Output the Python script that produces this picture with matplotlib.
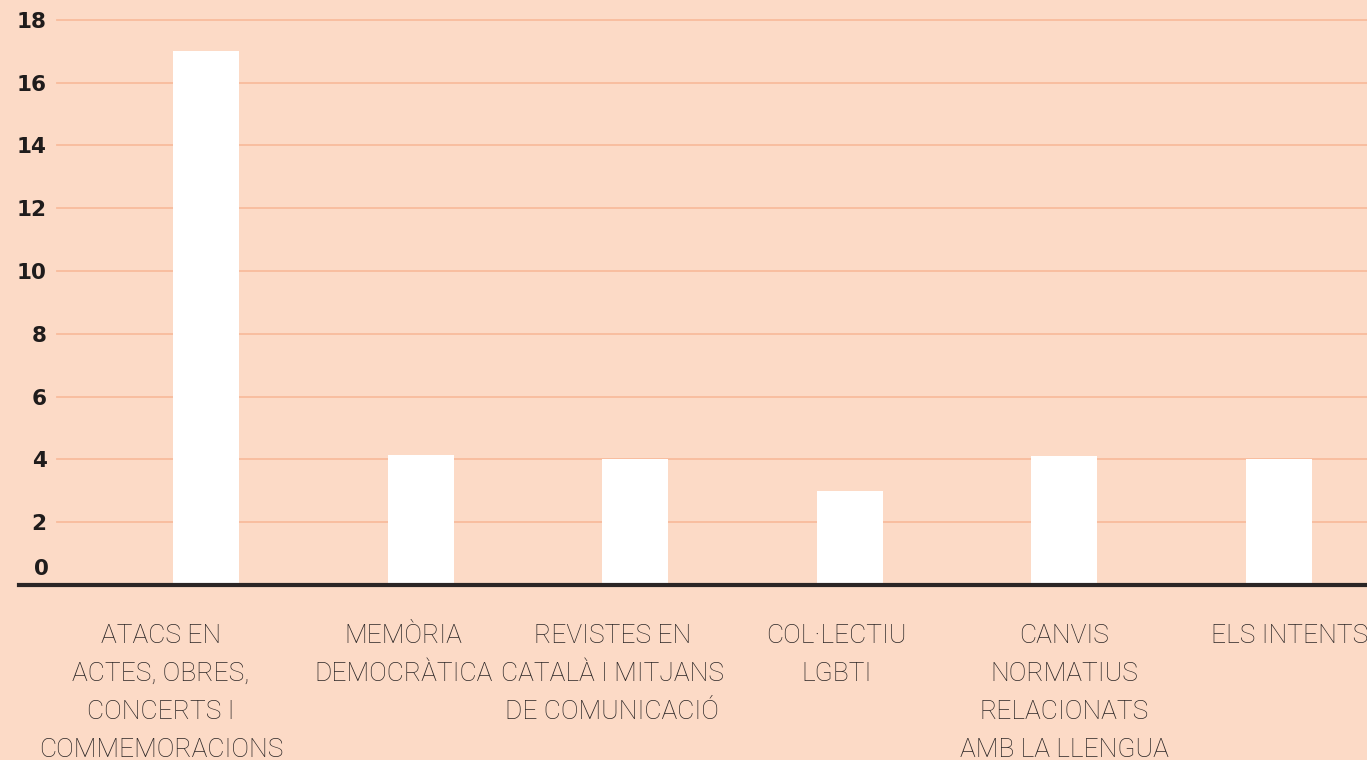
import matplotlib
matplotlib.use("Agg")
import matplotlib.pyplot as plt
from matplotlib.transforms import offset_copy

CATEGORIES = [
    "ATACS EN\nACTES, OBRES,\nCONCERTS I\nCOMMEMORACIONS",
    "MEMÒRIA\nDEMOCRÀTICA",
    "REVISTES EN\nCATALÀ I MITJANS\nDE COMUNICACIÓ",
    "COL·LECTIU\nLGBTI",
    "CANVIS\nNORMATIUS\nRELACIONATS\nAMB LA LLENGUA",
    "ELS INTENTS",
]
VALUES = [17, 4.15, 4, 3, 4.1, 4]
Y_TICKS = [0, 2, 4, 6, 8, 10, 12, 14, 16, 18]

# small horizontal nudges of the category labels, in pixels (layout only)
LABEL_NUDGE = [-45, -17, -23, -13, 0, 11]

BG = "#fcdac6"
GRID = "#f8bc9c"
TEXT = "#2b2626"

W, H, DPI = 1367, 760, 100
fig = plt.figure(figsize=(W / DPI, H / DPI), dpi=DPI, facecolor=BG)

# axes: left at baseline start, bottom at baseline
x0, base = 19, 585
step = 214.6
ax = fig.add_axes([x0 / W, (H - base) / H, 1 - x0 / W, base / H])
ax.set_facecolor(BG)
xs = list(range(len(VALUES)))
first = 187 / step
ax.set_xlim(-first, -first + (W - x0) / step)
ax.set_ylim(0, base / 31.4)

for t in Y_TICKS[1:]:
    ax.axhline(t, xmin=(57 - x0) / (W - x0), xmax=1, color=GRID, lw=1.3, zorder=1)

ax.bar(xs, VALUES, width=66 / step, color="white", zorder=2)
ax.axhline(0, color=TEXT, lw=3, zorder=3, clip_on=False)

for s in ax.spines.values():
    s.set_visible(False)
ax.set_xticks([])
ax.set_yticks([])

# y labels drawn as text so the zero can sit above the baseline
for t in Y_TICKS:
    dy = 16 if t == 0 else -2
    tr = offset_copy(ax.get_yaxis_transform(), fig=fig, x=0, y=dy, units="dots")
    ax.text(0.0225 if t == 0 else 0.0205, t, str(t), transform=tr, ha="right", va="center",
            fontsize=15.5, fontweight="bold", family="DejaVu Sans",
            color="#1f1c1c", clip_on=False)

for x, lab, nd in zip(xs, CATEGORIES, LABEL_NUDGE):
    tr = offset_copy(ax.get_xaxis_transform(), fig=fig, x=nd, y=-39, units="dots")
    ax.text(x, 0, lab, transform=tr, ha="center", va="top", fontsize=19,
            fontweight="light", family=["Roboto", "DejaVu Sans"], color=TEXT,
            linespacing=1.74, clip_on=False)

fig.savefig("out.png", dpi=DPI, facecolor=BG)
